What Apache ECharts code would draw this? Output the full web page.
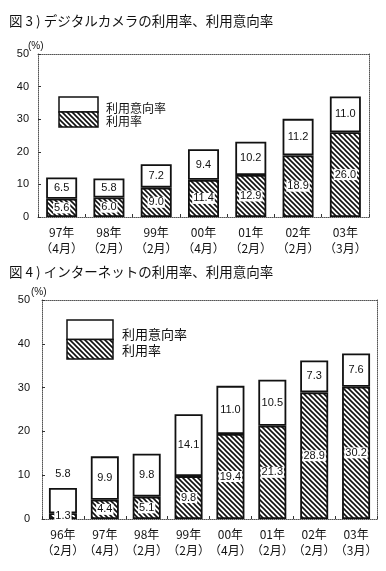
<!DOCTYPE html>
<html><head><meta charset="utf-8">
<script src="https://cdn.jsdelivr.net/npm/echarts@6/dist/echarts.min.js"></script>
<style>html,body{margin:0;padding:0;background:#fff}#c{width:386px;height:571px}</style>
</head><body><div id="c"></div>
<script>
const cats1 = ['97年\n（4月）','98年\n（2月）','99年\n（2月）','00年\n（4月）','01年\n（2月）','02年\n（2月）','03年\n（3月）'];
const use1 = [5.6, 6.0, 9.0, 11.4, 12.9, 18.9, 26.0];
const intent1 = [6.5, 5.8, 7.2, 9.4, 10.2, 11.2, 11.0];
const cats2 = ['96年\n（2月）','97年\n（4月）','98年\n（2月）','99年\n（2月）','00年\n（4月）','01年\n（2月）','02年\n（2月）','03年\n（3月）'];
const use2 = [1.3, 4.4, 5.1, 9.8, 19.4, 21.3, 28.9, 30.2];
const intent2 = [5.8, 9.9, 9.8, 14.1, 11.0, 10.5, 7.3, 7.6];
const yTicks = [0, 10, 20, 30, 40, 50];
const title1 = '図 3 ) デジタルカメラの利用率、利用意向率';
const title2 = '図 4 ) インターネットの利用率、利用意向率';
const legendNames = ['利用意向率', '利用率'];

function hatch() {
  const s = 5, c = document.createElement('canvas');
  c.width = s; c.height = s;
  const g = c.getContext('2d');
  g.fillStyle = '#fff'; g.fillRect(0,0,s,s);
  g.strokeStyle = '#111'; g.lineWidth = 1.6;
  g.beginPath();
  g.moveTo(-1,-1); g.lineTo(s+1,s+1);
  g.moveTo(-s-1,-1); g.lineTo(1,s+1);
  g.moveTo(s-1,-1); g.lineTo(2*s+1,s+1);
  g.stroke();
  return c;
}
const pat = {image: hatch(), repeat: 'repeat'};
const font = '"Liberation Sans", Arial, sans-serif';
const jfont = '"Noto Sans CJK JP", sans-serif';

const chart = echarts.init(document.getElementById('c'), null, {renderer: 'canvas'});
const dotted = {show: true, onZero: false, lineStyle: {color: '#555', type: 'dotted', width: 1}};
function xAx(grid, cats, pos) {
  const main = pos === 'bottom';
  return {type: 'category', gridIndex: grid, data: cats, position: pos,
    axisLine: dotted,
    axisTick: {show: main, inside: true, length: 3, interval: 0, lineStyle: {color: '#333'}},
    axisLabel: {show: main, interval: 0, color: '#111', fontFamily: jfont, fontSize: 12, lineHeight: 16, margin: 7},
    splitLine: {show: false}};
}
function yAx(grid, pos, margin) {
  const main = pos === 'left';
  return {type: 'value', gridIndex: grid, min: yTicks[0], max: yTicks[yTicks.length-1], interval: 10, position: pos,
    axisLine: dotted,
    axisTick: {show: main, inside: true, length: 3, lineStyle: {color: '#333'}},
    axisLabel: {show: main, color: '#111', fontFamily: font, fontSize: 11, margin: margin},
    splitLine: {show: false}};
}
function bars(idx, use, intent, bw, special) {
  return [
    {type: 'bar', name: legendNames[1], xAxisIndex: idx*2, yAxisIndex: idx*2, stack: 's'+idx, barWidth: bw,
      data: use, itemStyle: {color: pat, borderColor: '#111', borderWidth: 1.8},
      label: {show: true, position: 'inside', color: '#111', fontFamily: font, fontSize: 11,
        backgroundColor: '#fff', padding: [0, 1], formatter: p => p.value.toFixed(1)}},
    {type: 'bar', name: legendNames[0], xAxisIndex: idx*2, yAxisIndex: idx*2, stack: 's'+idx, barWidth: bw,
      data: intent.map((v, i) => special && i === 0 ? {value: v, label: {position: 'top', distance: 8}} : v),
      itemStyle: {color: '#fff', borderColor: '#111', borderWidth: 1.8},
      label: {show: true, position: 'inside', color: '#111', fontFamily: font, fontSize: 11, formatter: p => p.value.toFixed(1)}}
  ];
}
function legend(x, y, w, h, tx, ty1, ty2, fs) {
  return [
    {type: 'rect', shape: {x: x, y: y, width: w, height: h/2}, style: {fill: '#fff', stroke: '#111', lineWidth: 1.5}},
    {type: 'rect', shape: {x: x, y: y + h/2, width: w, height: h/2}, style: {fill: pat, stroke: '#111', lineWidth: 1.5}},
    {type: 'text', x: tx, y: ty1, style: {text: legendNames[0], font: fs + 'px ' + jfont, fill: '#111', textVerticalAlign: 'middle'}},
    {type: 'text', x: tx, y: ty2, style: {text: legendNames[1], font: fs + 'px ' + jfont, fill: '#111', textVerticalAlign: 'middle'}}
  ];
}
chart.setOption({
  animation: false,
  grid: [
    {left: 38, right: 17, top: 54, height: 163},
    {left: 42, right: 9, top: 300, height: 219}
  ],
  xAxis: [xAx(0, cats1, 'bottom'), xAx(0, cats1, 'top'), xAx(1, cats2, 'bottom'), xAx(1, cats2, 'top')],
  yAxis: [yAx(0, 'left', 9), yAx(0, 'right', 8), yAx(1, 'left', 12), yAx(1, 'right', 8)],
  series: [...bars(0, use1, intent1, 31, false), ...bars(1, use2, intent2, 28, true)],
  graphic: [
    {type: 'text', left: 9, top: 14, style: {text: title1, font: '13.5px ' + jfont, fill: '#111'}},
    {type: 'text', left: 9, top: 265, style: {text: title2, font: '13.5px ' + jfont, fill: '#111'}},
    {type: 'text', x: 28, y: 41, style: {text: '(%)', font: '10px ' + font, fill: '#111'}},
    {type: 'text', x: 31, y: 287, style: {text: '(%)', font: '10px ' + font, fill: '#111'}},
    ...legend(59, 97, 39, 30, 106, 108, 121, 12),
    ...legend(67, 320, 46, 39, 122, 334, 350, 13)
  ]
});
</script></body></html>
